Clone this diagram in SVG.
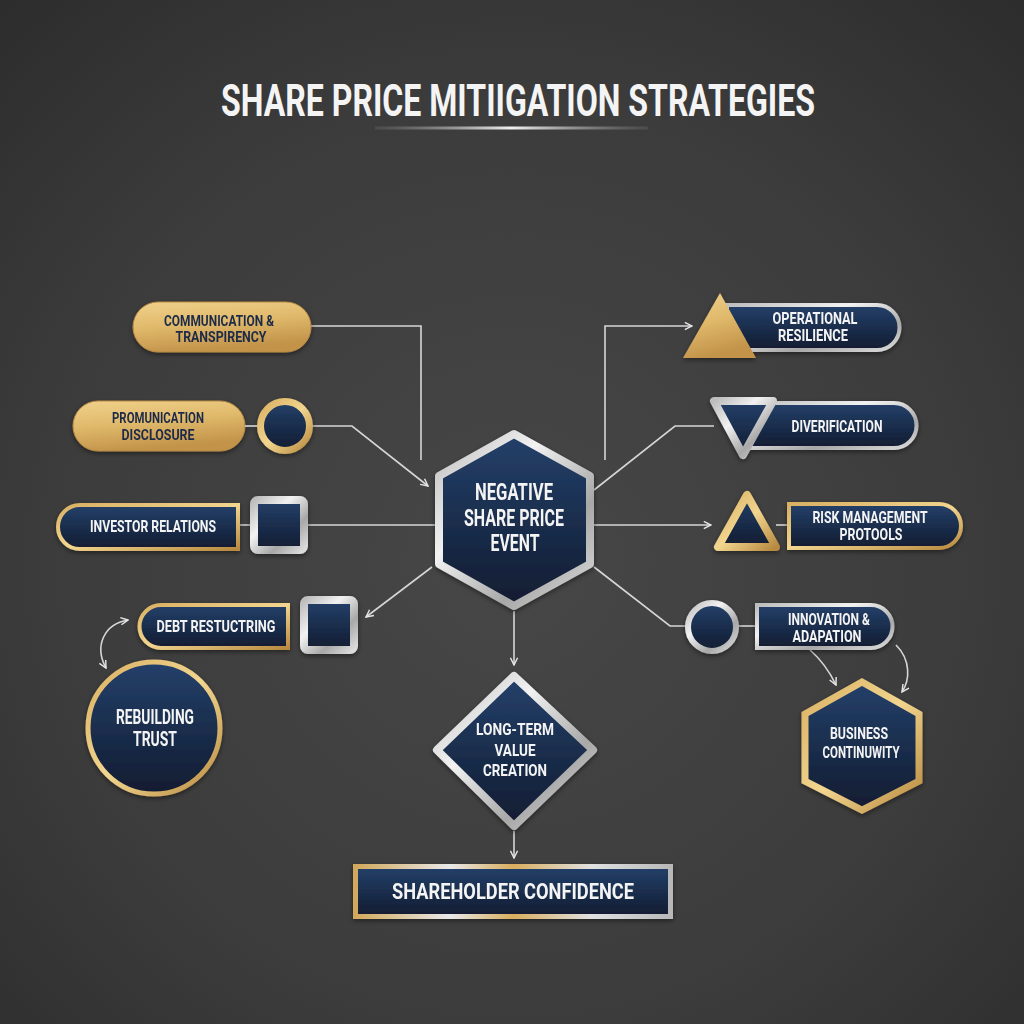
<svg xmlns="http://www.w3.org/2000/svg" width="1024" height="1024" viewBox="0 0 1024 1024">
<defs>
<radialGradient id="bg" cx="0.5" cy="0.55" r="0.75">
<stop offset="0" stop-color="#474747"/>
<stop offset="0.6" stop-color="#3c3c3c"/>
<stop offset="1" stop-color="#2c2c2c"/>
</radialGradient>
<linearGradient id="gold" x1="0" y1="0" x2="0.3" y2="1">
<stop offset="0" stop-color="#f0d28c"/>
<stop offset="0.5" stop-color="#e0b96b"/>
<stop offset="1" stop-color="#c2934a"/>
</linearGradient>
<linearGradient id="goldS" x1="0" y1="0" x2="1" y2="1">
<stop offset="0" stop-color="#d9b062"/>
<stop offset="0.5" stop-color="#f2d58f"/>
<stop offset="1" stop-color="#b88a40"/>
</linearGradient>
<linearGradient id="silver" x1="0" y1="0" x2="1" y2="1">
<stop offset="0" stop-color="#bdbdbd"/>
<stop offset="0.35" stop-color="#f2f2f2"/>
<stop offset="0.7" stop-color="#a8a8a8"/>
<stop offset="1" stop-color="#dcdcdc"/>
</linearGradient>
<linearGradient id="navy" x1="0" y1="0" x2="0" y2="1">
<stop offset="0" stop-color="#24406a"/>
<stop offset="1" stop-color="#111c30"/>
</linearGradient>
<linearGradient id="mixS" x1="0" y1="0" x2="1" y2="0">
<stop offset="0" stop-color="#d2a85c"/>
<stop offset="0.3" stop-color="#e8e8e8"/>
<stop offset="0.5" stop-color="#d8ad5e"/>
<stop offset="0.75" stop-color="#e0e0e0"/>
<stop offset="1" stop-color="#b8b8b8"/>
</linearGradient>
<linearGradient id="uline" x1="0" y1="0" x2="1" y2="0">
<stop offset="0" stop-color="#888" stop-opacity="0.2"/>
<stop offset="0.5" stop-color="#f0f0f0"/>
<stop offset="1" stop-color="#888" stop-opacity="0.2"/>
</linearGradient>
<filter id="sh" x="-20%" y="-20%" width="140%" height="140%">
<feDropShadow dx="0" dy="2" stdDeviation="2.5" flood-color="#000" flood-opacity="0.45"/>
</filter>
<marker id="ah" viewBox="0 0 10 10" refX="9" refY="5" markerWidth="9" markerHeight="9" markerUnits="userSpaceOnUse" orient="auto-start-reverse">
<path d="M1 1 L9 5 L1 9" fill="none" stroke="#e6e6e6" stroke-width="1.6"/>
</marker>
<style>
.t{font-family:Roboto,"DejaVu Sans",sans-serif;font-weight:700;text-anchor:middle}
.w{fill:#f4f4f4}
.n{fill:#1e2b48}
.c{fill:none;stroke:#d6d6d6;stroke-width:1.6}
</style>
</defs>
<rect width="1024" height="1024" fill="url(#bg)"/>

<g id="title">
<text class="t w" x="518" y="116" font-size="45" textLength="594" lengthAdjust="spacingAndGlyphs">SHARE PRICE MITIIGATION STRATEGIES</text>
<rect x="375" y="126.5" width="273" height="3" fill="url(#uline)"/>
</g>

<g id="connectors">
<path class="c" d="M311 326 H421 V460"/>
<path class="c" d="M312 426 H352 L428 486" marker-end="url(#ah)"/>
<path class="c" d="M240 525 H250 M308 525 H435"/>
<path class="c" d="M432 567 L366 617" marker-end="url(#ah)"/>
<path class="c" d="M128 620 C104 624 94 646 106 668" marker-start="url(#ah)" marker-end="url(#ah)"/>
<path class="c" d="M514 611 V665" marker-end="url(#ah)"/>
<path class="c" d="M514 831 V858" marker-end="url(#ah)"/>
<path class="c" d="M605 460 V326 H692" marker-end="url(#ah)"/>
<path class="c" d="M594 490 L675 426 H714"/>
<path class="c" d="M594 525 H711" marker-end="url(#ah)"/>
<path class="c" d="M776 525 H788"/>
<path class="c" d="M594 567 L670 626 H686"/>
<path class="c" d="M738 626 H755"/>
<path class="c" d="M810 650 Q826 664 836 685" marker-end="url(#ah)"/>
<path class="c" d="M896 645 C911 660 910 680 902 692" marker-end="url(#ah)"/>
</g>

<g id="n-communication" filter="url(#sh)">
<rect x="133" y="302" width="178" height="50" rx="25" fill="url(#gold)" stroke="#b88a45" stroke-width="1"/>
<text class="t n" x="219" y="326" font-size="15" textLength="110" lengthAdjust="spacingAndGlyphs">COMMUNICATION &amp;</text>
<text class="t n" x="221" y="342" font-size="15" textLength="91" lengthAdjust="spacingAndGlyphs">TRANSPIRENCY</text>
</g>

<g id="n-promunication" filter="url(#sh)">
<rect x="73" y="401" width="172" height="50" rx="25" fill="url(#gold)" stroke="#b88a45" stroke-width="1"/>
<text class="t n" x="158" y="423" font-size="15" textLength="92" lengthAdjust="spacingAndGlyphs">PROMUNICATION</text>
<text class="t n" x="158" y="440" font-size="15" textLength="73" lengthAdjust="spacingAndGlyphs">DISCLOSURE</text>
<line x1="245" y1="426" x2="257" y2="426" stroke="#d6d6d6" stroke-width="1.6"/>
<circle cx="285" cy="426" r="24.5" fill="url(#navy)" stroke="url(#goldS)" stroke-width="7"/>
</g>

<g id="n-investor" filter="url(#sh)">
<path d="M80 505 H238 V549 H80 A22 22 0 0 1 80 505 Z" fill="url(#navy)" stroke="url(#goldS)" stroke-width="4"/>
<text class="t w" x="153" y="532" font-size="17" textLength="126" lengthAdjust="spacingAndGlyphs">INVESTOR RELATIONS</text>
<rect x="254" y="500" width="50" height="50" rx="4" fill="url(#navy)" stroke="url(#silver)" stroke-width="8"/>
</g>

<g id="n-debt" filter="url(#sh)">
<path d="M161 605 H288 V648 H161 A21.5 21.5 0 0 1 161 605 Z" fill="url(#navy)" stroke="url(#goldS)" stroke-width="4"/>
<text class="t w" x="216" y="632" font-size="17" textLength="119" lengthAdjust="spacingAndGlyphs">DEBT RESTUCTRING</text>
<rect x="304" y="600" width="50" height="50" rx="4" fill="url(#navy)" stroke="url(#silver)" stroke-width="8"/>
</g>

<g id="n-rebuilding" filter="url(#sh)">
<circle cx="154" cy="728" r="66" fill="url(#navy)" stroke="url(#goldS)" stroke-width="5"/>
<text class="t w" x="155" y="724" font-size="21" textLength="78" lengthAdjust="spacingAndGlyphs">REBUILDING</text>
<text class="t w" x="155" y="746" font-size="21" textLength="44" lengthAdjust="spacingAndGlyphs">TRUST</text>
</g>

<g id="n-negative" filter="url(#sh)">
<polygon points="514,434 590,476 590,564 514,606 439,564 439,476" fill="url(#navy)" stroke="url(#silver)" stroke-width="8" stroke-linejoin="round"/>
<text class="t w" x="514" y="500" font-size="23" textLength="78" lengthAdjust="spacingAndGlyphs">NEGATIVE</text>
<text class="t w" x="514" y="526" font-size="23" textLength="100" lengthAdjust="spacingAndGlyphs">SHARE PRICE</text>
<text class="t w" x="515" y="551" font-size="23" textLength="49" lengthAdjust="spacingAndGlyphs">EVENT</text>
</g>

<g id="n-longterm" filter="url(#sh)">
<polygon points="514,676 593,750 514,826 437,750" fill="url(#navy)" stroke="url(#silver)" stroke-width="8" stroke-linejoin="round"/>
<text class="t w" x="515" y="735" font-size="17" textLength="78" lengthAdjust="spacingAndGlyphs">LONG-TERM</text>
<text class="t w" x="515" y="756" font-size="17" textLength="41" lengthAdjust="spacingAndGlyphs">VALUE</text>
<text class="t w" x="515" y="776" font-size="17" textLength="64" lengthAdjust="spacingAndGlyphs">CREATION</text>
</g>

<g id="n-shareholder" filter="url(#sh)">
<rect x="355.5" y="866.5" width="315" height="50" fill="url(#navy)" stroke="url(#mixS)" stroke-width="5"/>
<text class="t w" x="513" y="899" font-size="22.5" textLength="242" lengthAdjust="spacingAndGlyphs">SHAREHOLDER CONFIDENCE</text>
</g>

<g id="n-operational" filter="url(#sh)">
<path d="M727 305 H877 A22.5 22.5 0 0 1 877 350 H727 Z" fill="url(#navy)" stroke="url(#silver)" stroke-width="4"/>
<polygon points="683,358 720,293 756,358" fill="url(#gold)"/>
<text class="t w" x="815" y="324" font-size="16" textLength="85" lengthAdjust="spacingAndGlyphs">OPERATIONAL</text>
<text class="t w" x="813" y="341" font-size="16" textLength="70" lengthAdjust="spacingAndGlyphs">RESILIENCE</text>
</g>

<g id="n-diverification" filter="url(#sh)">
<path d="M747 403 H894 A22.5 22.5 0 0 1 894 448 H747 Z" fill="url(#navy)" stroke="url(#silver)" stroke-width="4"/>
<polygon points="714,401 773,401 743,455" fill="url(#navy)" stroke="url(#silver)" stroke-width="8" stroke-linejoin="round"/>
<text class="t w" x="837" y="432" font-size="17" textLength="91" lengthAdjust="spacingAndGlyphs">DIVERIFICATION</text>
</g>

<g id="n-risk" filter="url(#sh)">
<polygon points="747,495 718,547 776,547" fill="url(#navy)" stroke="url(#goldS)" stroke-width="8" stroke-linejoin="round"/>
<path d="M789 504 H939 A22 22 0 0 1 939 548 H789 Z" fill="url(#navy)" stroke="url(#goldS)" stroke-width="4"/>
<text class="t w" x="870" y="523" font-size="16" textLength="115" lengthAdjust="spacingAndGlyphs">RISK MANAGEMENT</text>
<text class="t w" x="871" y="540" font-size="16" textLength="63" lengthAdjust="spacingAndGlyphs">PROTOOLS</text>
</g>

<g id="n-innovation" filter="url(#sh)">
<circle cx="712" cy="627" r="24" fill="url(#navy)" stroke="url(#silver)" stroke-width="6"/>
<path d="M757 605 H871 A21.5 21.5 0 0 1 871 648 H757 Z" fill="url(#navy)" stroke="url(#silver)" stroke-width="4"/>
<text class="t w" x="829" y="625" font-size="16" textLength="82" lengthAdjust="spacingAndGlyphs">INNOVATION &amp;</text>
<text class="t w" x="827" y="642" font-size="16" textLength="69" lengthAdjust="spacingAndGlyphs">ADAPATION</text>
</g>

<g id="n-business" filter="url(#sh)">
<polygon points="862,682 919,714 919,781 862,810 805,781 805,714" fill="url(#navy)" stroke="url(#goldS)" stroke-width="7" stroke-linejoin="miter"/>
<text class="t w" x="859" y="739" font-size="16.5" textLength="58" lengthAdjust="spacingAndGlyphs">BUSINESS</text>
<text class="t w" x="861" y="758" font-size="16.5" textLength="77" lengthAdjust="spacingAndGlyphs">CONTINUWITY</text>
</g>
</svg>
